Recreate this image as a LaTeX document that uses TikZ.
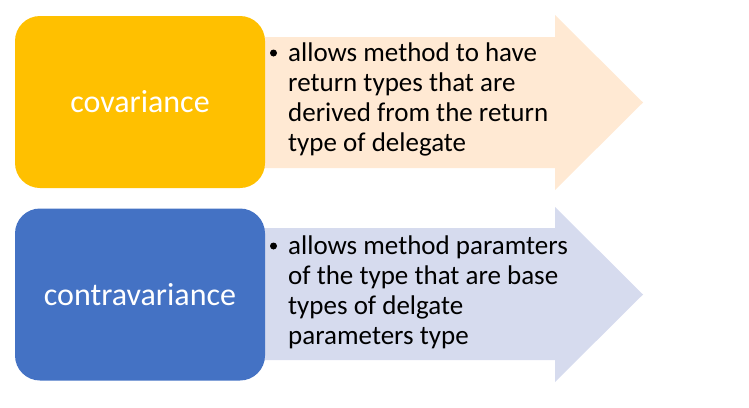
\documentclass[tikz,border=0pt]{standalone}
\usepackage{fontspec}
\setmainfont{Carlito}
\usepackage{xcolor}
\usepackage{tikz}
\usetikzlibrary{positioning}
\definecolor{covgold}{RGB}{255,192,0}
\definecolor{covpeach}{RGB}{255,233,211}
\definecolor{contrablue}{RGB}{68,114,196}
\definecolor{contralilac}{RGB}{214,219,238}
\tikzset{
  termbox/.style={rounded corners=25pt, minimum width=250pt, minimum height=172pt,
    text=white, inner sep=0pt, font=\fontsize{32}{38}\selectfont},
  notetext/.style={align=left, inner sep=0pt, font=\fontsize{27}{30}\selectfont},
  notebullet/.style={circle, fill=black, inner sep=0pt, minimum size=7pt}
}

\begin{document}
\begin{tikzpicture}[x=1pt, y=-1pt]
        \useasboundingbox (0,0) rectangle (749,407);
        % arrows behind the boxes
        \fill[covpeach] (260,37) -- (555,37) -- (555,15) -- (643,102.5)
          -- (555,190) -- (555,168) -- (260,168) -- cycle;
        \fill[contralilac] (260,228) -- (555,228) -- (555,207) -- (643,294.5)
          -- (555,382) -- (555,360) -- (260,360) -- cycle;
        % terms
        \node[termbox, fill=covgold] (cov) at (140,102) {covariance};
        \node[termbox, fill=contrablue] (contra) at (140,294.5) {contravariance};
        % notes (base = last line)
        \node[notetext, anchor=base west] (covnote) at (288,151)
          {allows method to have\\return types that are\\derived from the return\\type of delegate};
        \node[notebullet] (covdot) at (273.5,53) {};
        \node[notetext, anchor=base west] (contranote) at (288,344)
          {allows method paramters\\of the type that are base\\types of delgate\\parameters type};
        \node[notebullet] (contradot) at (273.5,246) {};
    \end{tikzpicture}
\end{document}
